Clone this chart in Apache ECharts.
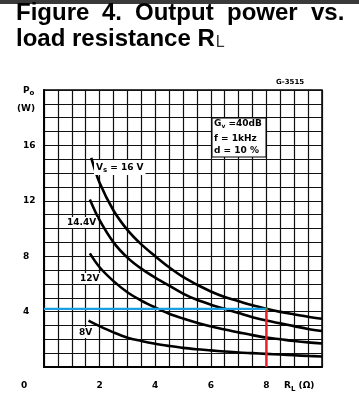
<!DOCTYPE html>
<html>
<head>
<meta charset="utf-8">
<script src="https://cdn.jsdelivr.net/npm/echarts@6/dist/echarts.min.js"></script>
<style>
html,body{margin:0;padding:0;background:#fff;}
#c{width:359px;height:400px;}
</style>
</head>
<body>
<div id="c"></div>
<script>
// Load resistance (ohm) and output power (W)
const rl16 = [1.7, 2.0, 2.5, 3.0, 3.5, 4.0, 4.5, 5.0, 5.5, 6.0, 6.5, 7.0, 7.5, 8.0, 8.5, 9.0, 9.5, 10];
const p16  = [15.1, 13.3, 11.3, 9.9, 8.85, 8.0, 7.2, 6.5, 5.95, 5.45, 5.05, 4.75, 4.45, 4.2, 3.98, 3.8, 3.63, 3.48];
const rl144 = [1.65, 2.0, 2.5, 3.0, 3.5, 4.0, 4.5, 5.0, 5.5, 6.0, 6.5, 7.0, 7.5, 8.0, 8.5, 9.0, 9.5, 10];
const p144  = [12.1, 10.6, 9.0, 7.9, 7.1, 6.45, 5.87, 5.3, 4.85, 4.5, 4.2, 3.9, 3.6, 3.35, 3.15, 2.95, 2.75, 2.6];
const rl12 = [1.65, 2.0, 2.5, 3.0, 3.5, 4.0, 4.5, 5.0, 5.5, 6.0, 6.5, 7.0, 7.5, 8.0, 8.5, 9.0, 9.5, 10];
const p12  = [8.2, 7.2, 6.2, 5.4, 4.8, 4.3, 3.85, 3.5, 3.2, 2.94, 2.7, 2.5, 2.3, 2.12, 2.0, 1.88, 1.78, 1.7];
const rl8 = [1.6, 2.0, 2.5, 3.0, 3.5, 4.0, 4.5, 5.0, 5.5, 6.0, 6.5, 7.0, 7.5, 8.0, 8.5, 9.0, 9.5, 10];
const p8  = [3.35, 2.95, 2.5, 2.12, 1.88, 1.68, 1.52, 1.38, 1.28, 1.2, 1.12, 1.05, 1.0, 0.95, 0.9, 0.85, 0.8, 0.76];
// Highlighted operating point
const markR = 8;
const markP = 4.2;
// Axis tick labels shown
const xTicks = [2, 4, 6, 8];
const yTicks = [4, 8, 12, 16];

const zip = (a, b) => a.map((v, i) => [v, b[i]]);

const chart = echarts.init(document.getElementById('c'), null, {renderer: 'canvas'});
const lblFont = '"DejaVu Sans", sans-serif';
const curve = (d) => ({
  type: 'line', data: d, smooth: 0.35, symbol: 'none',
  lineStyle: {color: '#000', width: 2.6}, z: 5
});
const TF = 'bold 24px "Liberation Sans", Arial, sans-serif';

chart.setOption({
  animation: false,
  backgroundColor: '#fff',
  grid: {left: 44, top: 90, width: 278, height: 277, show: true, borderColor: '#000', borderWidth: 1.5, backgroundColor: 'transparent'},
  xAxis: {
    type: 'value', min: 0, max: 10, interval: 0.5,
    axisLine: {show: true, lineStyle: {color: '#000', width: 2}},
    axisTick: {show: false},
    splitLine: {show: true, lineStyle: {color: '#111', width: 1.2}},
    axisLabel: {
      show: true, margin: 14, color: '#000', fontSize: 9, fontWeight: 'bold', fontFamily: lblFont,
      formatter: v => xTicks.includes(v) ? String(v) : ''
    }
  },
  yAxis: {
    type: 'value', min: 0, max: 20, interval: 1,
    axisLine: {show: true, lineStyle: {color: '#000', width: 2}},
    axisTick: {show: false},
    splitLine: {show: true, lineStyle: {color: '#111', width: 1.2}},
    axisLabel: {
      show: true, margin: 21, align: 'left', color: '#000', fontSize: 9, fontWeight: 'bold', fontFamily: lblFont,
      formatter: v => yTicks.includes(v) ? String(v) : ''
    }
  },
  series: [
    curve(zip(rl16, p16)),
    curve(zip(rl144, p144)),
    curve(zip(rl12, p12)),
    curve(zip(rl8, p8)),
    {type: 'line', data: [[0, markP], [markR, markP]], symbol: 'none', lineStyle: {color: '#1aa0e0', width: 2.2}, z: 6},
    {type: 'line', data: [[markR, markP], [markR, 0]], symbol: 'none', lineStyle: {color: '#e82028', width: 2.4}, z: 6},
    {type: 'scatter', data: [[markR, markP]], symbolSize: 3, itemStyle: {color: '#3c9a3c'}, z: 7}
  ],
  graphic: [
    {type: 'rect', shape: {x: 0, y: 0, width: 359, height: 4}, style: {fill: '#3a3a3a'}},
    {type: 'text', left: 16, top: 1, style: {text: 'Figure', font: TF, fill: '#000'}},
    {type: 'text', left: 102, top: 1, style: {text: '4.', font: TF, fill: '#000'}},
    {type: 'text', left: 135, top: 1, style: {text: 'Output', font: TF, fill: '#000'}},
    {type: 'text', left: 227, top: 1, style: {text: 'power', font: TF, fill: '#000'}},
    {type: 'text', left: 311, top: 1, style: {text: 'vs.', font: TF, fill: '#000'}},
    {type: 'text', left: 16, top: 27, style: {
      text: '{a|load resistance R}{b|L}',
      rich: {
        a: {font: TF, fill: '#000', verticalAlign: 'bottom'},
        b: {font: '16px "Liberation Sans", Arial, sans-serif', fill: '#333', verticalAlign: 'bottom', padding: [0, 0, 0, 1]}
      }
    }},
    {type: 'text', left: 276, top: 79, style: {text: 'G-3515', font: 'bold 7px "DejaVu Sans", sans-serif', fill: '#000'}},
    {type: 'text', left: 23, top: 86, style: {
      text: '{p|P}{s|o}', rich: {p: {font: 'bold 9px "DejaVu Sans", sans-serif', fill: '#000'}, s: {font: 'bold 7px "DejaVu Sans", sans-serif', fill: '#000', padding: [6, 0, 0, 0]}}
    }},
    {type: 'text', left: 17, top: 104, style: {text: '(W)', font: 'bold 9px "DejaVu Sans", sans-serif', fill: '#000'}},
    {type: 'text', left: 21, top: 381, style: {text: '0', font: 'bold 9px "DejaVu Sans", sans-serif', fill: '#000'}},
    {type: 'text', left: 284, top: 381, style: {
      text: '{p|R}{s|L}{p| (Ω)}', rich: {p: {font: 'bold 9px "DejaVu Sans", sans-serif', fill: '#000'}, s: {font: 'bold 7px "DejaVu Sans", sans-serif', fill: '#000', padding: [7, 0, 0, 0]}}
    }},
    {type: 'rect', shape: {x: 212, y: 118, width: 54, height: 39}, style: {fill: '#fff', stroke: '#000', lineWidth: 1}, z: 10},
    {type: 'text', left: 214, top: 119, z: 11, style: {
      text: '{p|G}{s|v}{p| =40dB}', rich: {p: {font: 'bold 9px "DejaVu Sans", sans-serif', fill: '#000'}, s: {font: 'bold 6px "DejaVu Sans", sans-serif', fill: '#000', padding: [6, 0, 0, 0]}}
    }},
    {type: 'text', left: 214, top: 134, z: 11, style: {text: 'f = 1kHz', font: 'bold 9px "DejaVu Sans", sans-serif', fill: '#000'}},
    {type: 'text', left: 214, top: 146, z: 11, style: {text: 'd = 10 %', font: 'bold 9px "DejaVu Sans", sans-serif', fill: '#000'}},
    {type: 'text', left: 94, top: 160, z: 11, style: {
      text: '{p|V}{s|s}{p| = 16 V}', backgroundColor: '#fff', padding: [1, 2],
      rich: {p: {font: 'bold 9px "DejaVu Sans", sans-serif', fill: '#000'}, s: {font: 'bold 7px "DejaVu Sans", sans-serif', fill: '#000', padding: [6, 0, 0, 0]}}
    }},
    {type: 'text', left: 66, top: 217, z: 11, style: {text: '14.4V', font: 'bold 9px "DejaVu Sans", sans-serif', fill: '#000', backgroundColor: '#fff', padding: [1, 1]}},
    {type: 'text', left: 79, top: 273, z: 11, style: {text: '12V', font: 'bold 9px "DejaVu Sans", sans-serif', fill: '#000', backgroundColor: '#fff', padding: [1, 1]}},
    {type: 'text', left: 78, top: 327, z: 11, style: {text: '8V', font: 'bold 9px "DejaVu Sans", sans-serif', fill: '#000', backgroundColor: '#fff', padding: [1, 1]}}
  ]
});
</script>
</body>
</html>
